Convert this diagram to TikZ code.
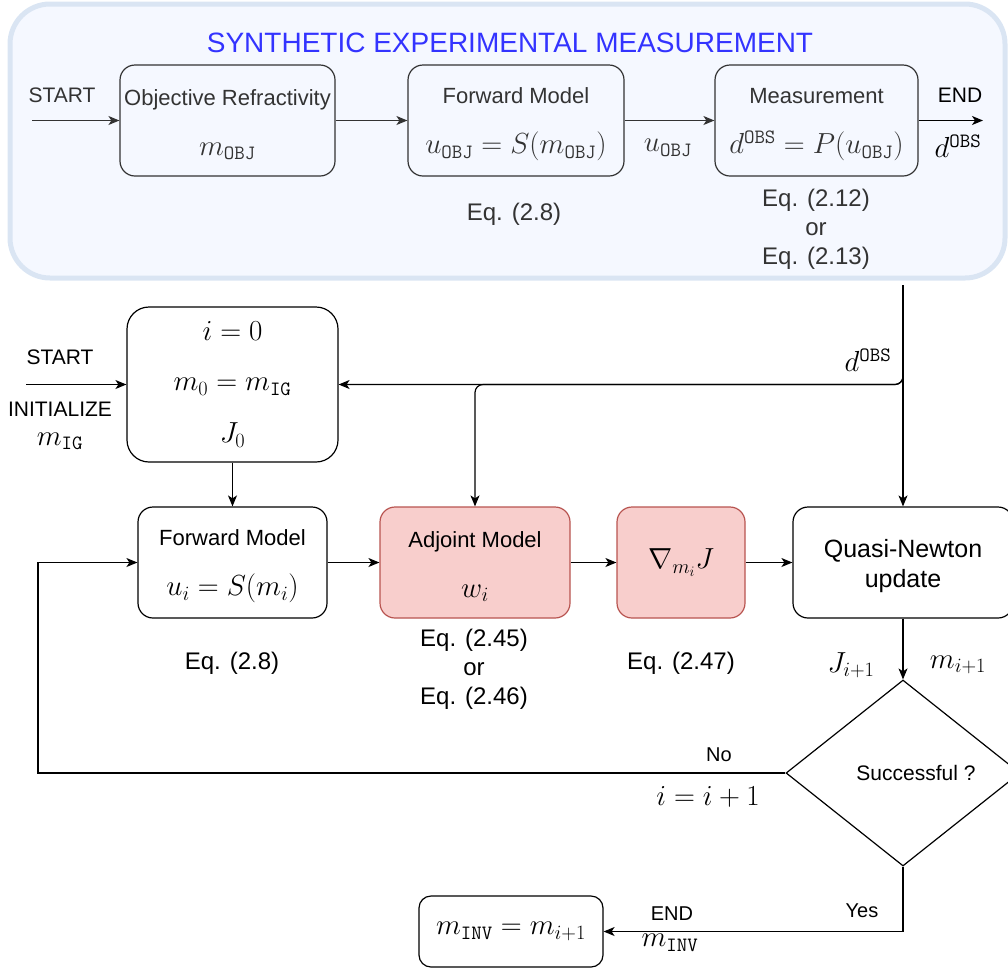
\RequirePackage{fix-cm}
\documentclass[tikz,border=0pt]{standalone}
\usepackage{fontspec}
\setmainfont{Liberation Sans}
\usetikzlibrary{arrows.meta,shapes.geometric}
\definecolor{panelfill}{HTML}{F5F8FF}
\definecolor{paneldraw}{HTML}{DAE5F3}
\definecolor{titleblue}{HTML}{3333FF}
\definecolor{redfill}{HTML}{F8CECC}
\definecolor{reddraw}{HTML}{B85450}
\definecolor{darktext}{HTML}{333333}
\newcommand{\mathlbl}[1]{{\fontsize{29}{34}\selectfont$#1$}}
\newcommand{\boxstrut}{\rule{0pt}{24pt}}
\tikzset{
  box/.style={draw,line width=1.2pt,rounded corners=15pt,align=center,inner sep=0pt,
    font=\fontsize{22}{26}\selectfont},
  redbox/.style={box,draw=reddraw,fill=redfill},
  arr/.style={-{Stealth[length=11pt,width=9pt,inset=3pt]},line width=1.2pt},
  lbl/.style={font=\fontsize{21}{25}\selectfont,inner sep=0pt},
  eqlbl/.style={font=\fontsize{24}{29}\selectfont,align=center,inner sep=0pt},
}
\begin{document}
\begin{tikzpicture}[x=1pt,y=-1pt]
\useasboundingbox (0,0) rectangle (1008,970);
\draw[line width=5pt,draw=paneldraw,fill=panelfill,rounded corners=40pt] (10,4) rectangle (1005,278);
\node[titleblue,font=\fontsize{28}{32}\selectfont] (title) at (510,43) {SYNTHETIC EXPERIMENTAL MEASUREMENT};
\begin{scope}[darktext]
\node[box,minimum width=215pt,minimum height=111pt] (obj) at (227.5,120.5) {\boxstrut Objective Refractivity\\[24pt]\mathlbl{m_{\mathtt{OBJ}}}};
\node[box,minimum width=216pt,minimum height=111pt] (fwdA) at (516,120.5) {\boxstrut Forward Model\\[24pt]\mathlbl{u_{\mathtt{OBJ}}=S(m_{\mathtt{OBJ}})}};
\node[box,minimum width=203pt,minimum height=111pt] (meas) at (816.5,120.5) {\boxstrut Measurement\\[24pt]\mathlbl{d^{\mathtt{OBS}}=P(u_{\mathtt{OBJ}})}};
\coordinate (startA) at (32,120.5);
\coordinate (endA) at (983,120.5);
\draw[arr] (startA) -- (obj);
\draw[arr] (obj) -- (fwdA);
\draw[arr] (fwdA) -- (meas);
\node[lbl] (startlblA) at (62,95) {START};
\node[lbl] (uobj) at (668,148) {\mathlbl{u_{\mathtt{OBJ}}}};
\node[eqlbl] (eqA) at (514,214) {Eq. (2.8)};
\node[eqlbl] (eqB) at (816,229) {Eq. (2.12)\\or\\Eq. (2.13)};
\end{scope}
\draw[arr] (meas) -- (endA);
\node[lbl] (endlblA) at (960,95) {END};
\node[lbl] (dobsA) at (958,146) {\mathlbl{d^{\mathtt{OBS}}}};
% inversion loop
\node[box,rounded corners=22pt,minimum width=211pt,minimum height=155pt] (init) at (232.5,384.5) {\mathlbl{i=0}\\[24pt]\mathlbl{m_0=m_{\mathtt{IG}}}\\[26pt]\mathlbl{J_0}};
\node[box,minimum width=189pt,minimum height=111pt] (fwd) at (232.5,562.5) {\boxstrut Forward Model\\[24pt]\mathlbl{u_i=S(m_i)}};
\node[redbox,minimum width=190pt,minimum height=111pt] (adj) at (475,562.5) {\boxstrut Adjoint Model\\[24pt]\mathlbl{w_i}};
\node[redbox,minimum width=128pt,minimum height=111pt] (grad) at (681,562.5) {\mathlbl{\nabla_{m_i}J}};
\node[box,minimum width=220pt,minimum height=111pt,font=\fontsize{25}{30}\selectfont] (qn) at (903,562.5) {\rule{0pt}{25pt}Quasi-Newton\\update};
\node[draw,diamond,line width=1.2pt,inner sep=0pt,minimum width=234pt,minimum height=186pt,font=\fontsize{21}{25}\selectfont] (dec) at (903,773) {\hspace*{26pt}Successful ?};
\node[box,rounded corners=12pt,minimum width=184pt,minimum height=71pt] (res) at (511,931.5) {\mathlbl{m_{\mathtt{INV}}=m_{i+1}}};
\coordinate (dsrc) at (903,285);
\coordinate (startB) at (26,384.5);
\coordinate (loopc) at (38,773);
\draw[arr] (dsrc) -- (qn);
\draw[arr,rounded corners=8pt] (dsrc) |- (init.east);
\draw[arr,rounded corners=8pt] (dsrc) |- (init.east -| adj.north) -- (adj.north);
\draw[arr] (startB) -- (init);
\draw[arr] (init) -- (fwd);
\draw[arr] (fwd) -- (adj);
\draw[arr] (adj) -- (grad);
\draw[arr] (grad) -- (qn);
\draw[arr] (qn) -- (dec);
\draw[arr] (dec.west) -- (loopc) |- (fwd.west);
\draw[arr] (dec.south) |- (res.east);
\node[lbl] (dobsB) at (868,360) {\mathlbl{d^{\mathtt{OBS}}}};
\node[lbl] (startlblB) at (60,357) {START};
\node[lbl,align=center] (initlbl) at (60,426) {INITIALIZE\\[4pt]\mathlbl{m_{\mathtt{IG}}}};
\node[eqlbl] (eqC) at (232,663) {Eq. (2.8)};
\node[eqlbl] (eqD) at (474,669) {Eq. (2.45)\\or\\Eq. (2.46)};
\node[eqlbl] (eqE) at (681,663) {Eq. (2.47)};
\node[lbl] (jnext) at (851,665) {\mathlbl{J_{i+1}}};
\node[lbl] (mnext) at (958,665) {\mathlbl{m_{i+1}}};
\node[lbl,font=\fontsize{20}{24}\selectfont] (nolbl) at (719,755) {No};
\node[lbl] (incr) at (708,797) {\mathlbl{i=i+1}};
\node[lbl,font=\fontsize{20}{24}\selectfont] (yeslbl) at (862,911) {Yes};
\node[lbl,font=\fontsize{20}{24}\selectfont] (endlblB) at (672,914) {END};
\node[lbl] (minv) at (670,943) {\mathlbl{m_{\mathtt{INV}}}};
\end{tikzpicture}
\end{document}
